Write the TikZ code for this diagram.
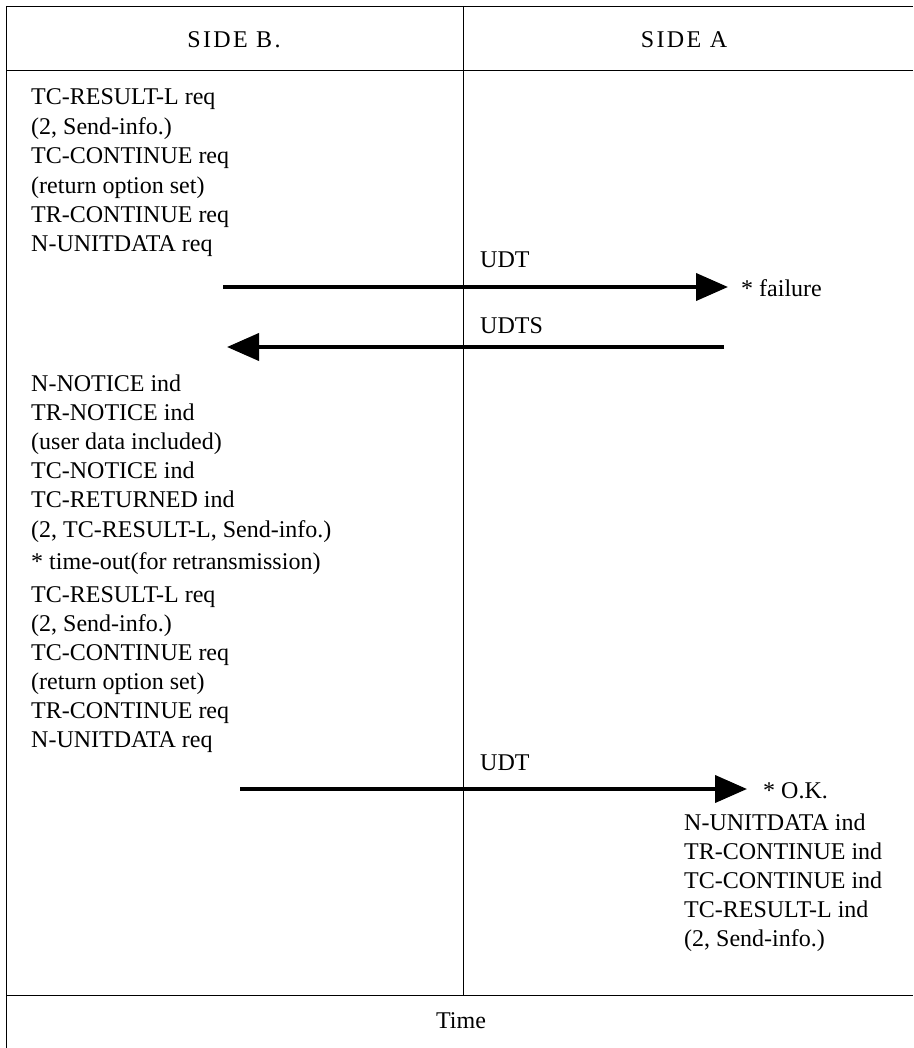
\documentclass[tikz,border=0pt]{standalone}
\usepackage{fontspec}
\setmainfont{Liberation Serif}
\usetikzlibrary{arrows.meta}
\begin{document}
\begin{tikzpicture}[x=1pt,y=-1pt,
  rule/.style={line width=0.9pt},
  msg/.style={line width=4pt,-{Triangle[length=32pt 0,width=27pt 0]}},
  lbl/.style={anchor=base west,inner sep=0pt,font=\fontsize{24}{29}\selectfont},
  ctr/.style={anchor=base,inner sep=0pt,font=\fontsize{24}{29}\selectfont},
  colhead/.style={anchor=base,inner sep=0pt,
    font=\fontsize{24}{29}\selectfont\addfontfeatures{LetterSpace=10}}]
\useasboundingbox (0,0) rectangle (913,1048);

% frame of the table
\coordinate (tl) at (6,6);
\coordinate (tr) at (913,6);
\coordinate (hl) at (6,70);
\coordinate (hr) at (913,70);
\coordinate (fl) at (6,995);
\coordinate (fr) at (913,995);
\coordinate (bl) at (6,1048);
\coordinate (dt) at (463,6);
\coordinate (db) at (463,995);
\draw[rule] (tl) -- (tr);
\draw[rule] (hl) -- (hr);
\draw[rule] (fl) -- (fr);
\draw[rule] (tl) -- (bl);
\draw[rule] (dt) -- (db);

% column heads and footer
\node[colhead] (sideB) at (234,48) {SIDE B.};
\node[colhead] (sideA) at (684,48) {SIDE A};
\node[ctr] (time) at (461,1028) {Time};

% side B: first attempt
\foreach \t [count=\i] in {TC-RESULT-L req,{(2, Send-info.)},TC-CONTINUE req,
    (return option set),TR-CONTINUE req,N-UNITDATA req}
  \node[lbl] (first-\i) at (31,{105+29.4*(\i-1)}) {\t};

% side B: notice of the failure
\foreach \t [count=\i] in {N-NOTICE ind,TR-NOTICE ind,(user data included),
    TC-NOTICE ind,TC-RETURNED ind,{(2, TC-RESULT-L, Send-info.)}}
  \node[lbl] (notice-\i) at (31,{391+29.2*(\i-1)}) {\t};
\node[lbl] (timeout) at (31,569) {* time-out(for retransmission)};

% side B: retransmission
\foreach \t [count=\i] in {TC-RESULT-L req,{(2, Send-info.)},TC-CONTINUE req,
    (return option set),TR-CONTINUE req,N-UNITDATA req}
  \node[lbl] (second-\i) at (31,{602+29*(\i-1)}) {\t};

% side A
\node[lbl] (fail) at (741,296) {* failure};
\node[lbl] (ok) at (763,798) {* O.K.};
\foreach \t [count=\i] in {N-UNITDATA ind,TR-CONTINUE ind,TC-CONTINUE ind,
    TC-RESULT-L ind,{(2, Send-info.)}}
  \node[lbl] (ind-\i) at (684,{830+29*(\i-1)}) {\t};

% messages
\node[lbl] (udt1) at (480,268) {UDT};
\node[lbl] (udts) at (480,333) {UDTS};
\node[lbl] (udt2) at (480,770) {UDT};
\coordinate (m1s) at (223,287);
\coordinate (m1e) at (728,287);
\coordinate (m2s) at (724,347);
\coordinate (m2e) at (227,347);
\coordinate (m3s) at (240,789);
\coordinate (m3e) at (747,789);
\draw[msg] (m1s) -- (m1e);
\draw[msg] (m2s) -- (m2e);
\draw[msg] (m3s) -- (m3e);
\end{tikzpicture}
\end{document}
